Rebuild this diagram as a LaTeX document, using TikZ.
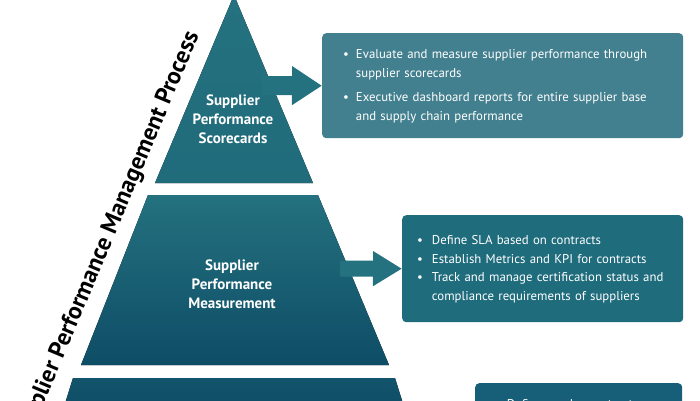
\documentclass[tikz,border=0pt]{standalone}
\usepackage{fontspec}
\setmainfont{PT Sans}
\usetikzlibrary{positioning, arrows.meta}

\definecolor{tiertop}{HTML}{24717F}
\definecolor{tierbottom}{HTML}{0E4D66}
\definecolor{boxlight}{HTML}{43808F}
\definecolor{boxmid}{HTML}{1F6C7D}
\definecolor{boxdark}{HTML}{175F78}

\begin{document}
\begin{tikzpicture}[x=1pt, y=-1pt,
		tierlabel/.style={text=white, align=center, font=\fontsize{15}{19}\selectfont\bfseries},
		infobox/.style={rounded corners=4pt, anchor=north west, inner ysep=0pt, text=white, align=left, font=\fontsize{12.8}{19}\selectfont},
		bigarrow/.style={draw=tiertop}]
		\useasboundingbox (0,0) rectangle (700,400);
		\clip (0,0) rectangle (700,400);

		% Pyramid tiers
		\fill[top color=tiertop, bottom color=tiertop!85!tierbottom] (234,-5) -- (313,183) -- (155,183) -- cycle;
		\fill[top color=tiertop, bottom color=tierbottom] (148,195) -- (318,195) -- (389,365) -- (81,365) -- cycle;
		\fill[top color=tierbottom!80!tiertop, bottom color=tierbottom] (73,378) -- (395,378) -- (405,410) -- (63,410) -- cycle;

		% Tier labels
		\node[tierlabel] (score) at (233,119) {Supplier\\Performance\\Scorecards};
		\node[tierlabel] (measure) at (232,284) {Supplier\\Performance\\Measurement};

		% Process title along the left edge
		\node[font=\fontsize{24}{24}\selectfont\bfseries, rotate=67.2, anchor=base east, inner sep=0pt] (title) at (199,35) {Supplier Performance Management Process};

		% Boxes on the right
		\node[infobox, fill=boxlight, inner xsep=21pt, text width=319pt, minimum height=105pt] (cardbox) at (322,33) {%
			\begin{tabular}{@{}l@{\hspace{7pt}}l@{}}
				\textbullet & Evaluate and measure supplier performance through\\
				& supplier scorecards\\[5pt]
				\textbullet & Executive dashboard reports for entire supplier base\\
				& and supply chain performance
			\end{tabular}};
		\node[infobox, fill=boxmid, inner xsep=15pt, text width=251pt, minimum height=107pt, font=\fontsize{12.8}{18.5}\selectfont] (slabox) at (402,215) {%
			\begin{tabular}{@{}l@{\hspace{9pt}}l@{}}
				\textbullet & Define SLA based on contracts\\
				\textbullet & Establish Metrics and KPI for contracts\\
				\textbullet & Track and manage certification status and\\
				& compliance requirements of suppliers
			\end{tabular}};
		\node[infobox, fill=boxdark, inner xsep=18pt, inner ysep=12pt, text width=171pt] (vendorbox) at (475,383) {%
			\begin{tabular}{@{}l@{\hspace{8pt}}l@{}}
				\textbullet & Define vendor contracts
			\end{tabular}};

		% Arrows from tiers to boxes
		\coordinate (from1) at (262,85.5);
		\coordinate (from2) at (340,268.5);
		\draw[bigarrow, line width=19pt, -{Triangle[width=37pt,length=30pt]}] (from1) -- (cardbox.west);
		\draw[bigarrow, line width=16pt, -{Triangle[width=33pt,length=29pt]}] (from2) -- (slabox.west);
	\end{tikzpicture}
\end{document}
